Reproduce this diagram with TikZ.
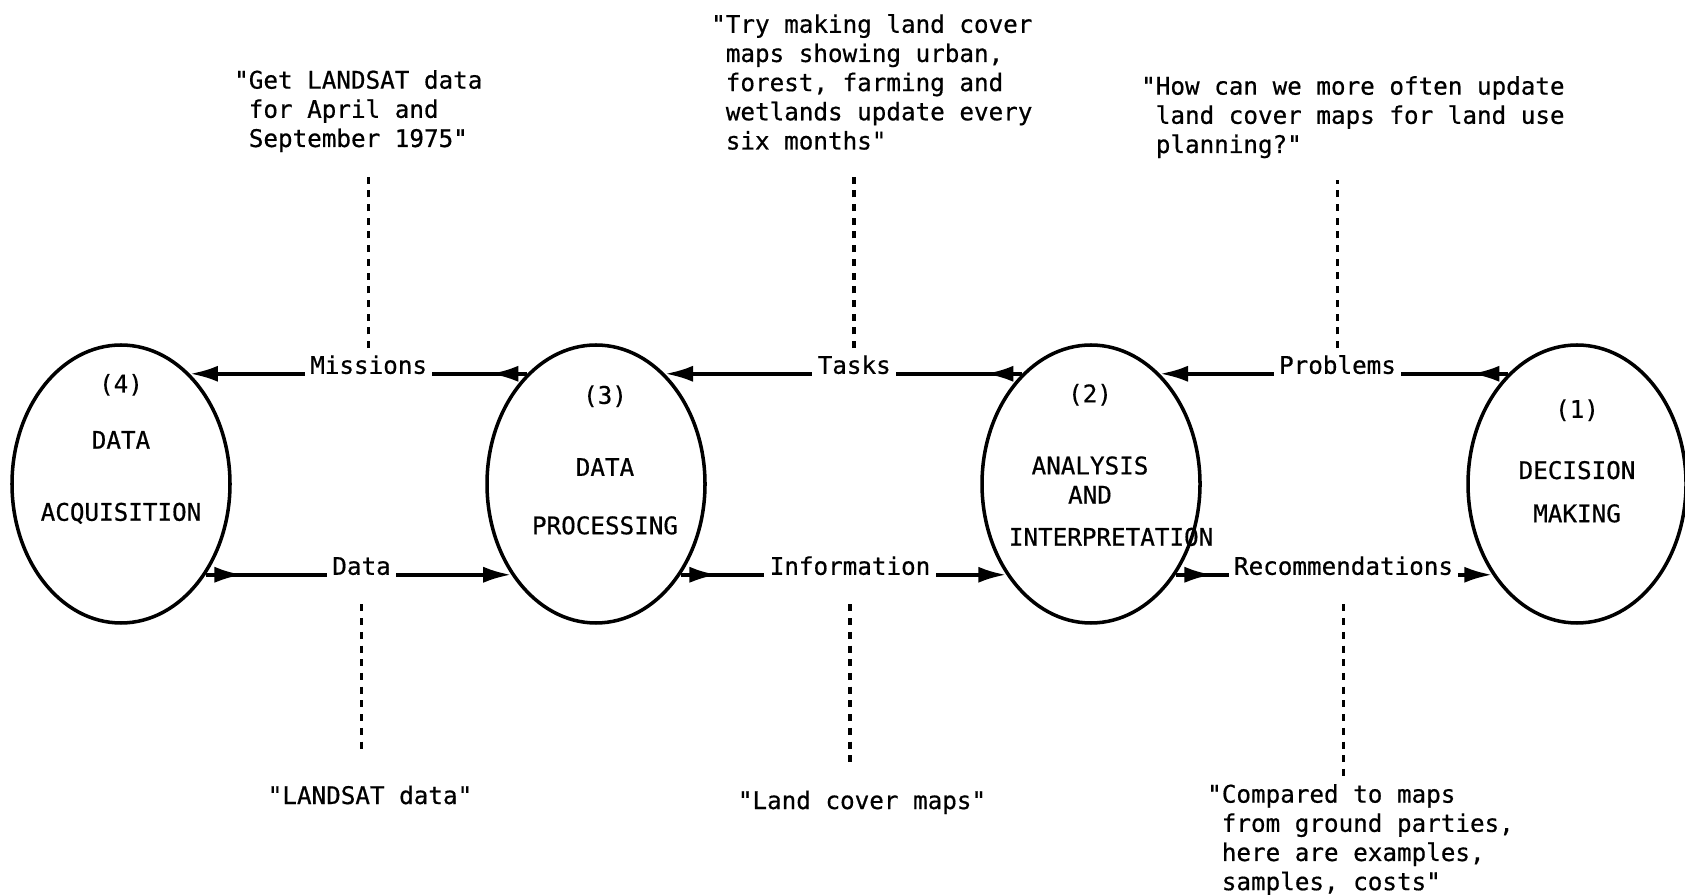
\documentclass[tikz,border=0pt]{standalone}
\usepackage{fontspec}
\setmonofont{DejaVu Sans Mono}[FakeBold=0.6]
\usetikzlibrary{shapes.geometric,arrows.meta,decorations.markings}

\tikzset{proc/.style={draw,ellipse,line width=1pt,minimum width=21.8mm,minimum height=27.8mm,inner sep=0pt}}
\tikzset{proctxt/.style={align=center,inner sep=0pt}}
\tikzset{flow/.style={line width=1.1pt,-{Latex[length=8pt,width=4.6pt]},postaction={decorate},
    decoration={markings,mark=at position 10.5pt with {\arrow{Latex[length=8pt,width=4.6pt]}}}}}
\tikzset{flowlbl/.style={fill=white,anchor=base,inner sep=1.5pt}}
\tikzset{saying/.style={align=left,anchor=north west,inner sep=1pt}}
\tikzset{hint/.style={line width=1.05pt,dash pattern=on 2pt off 1.9pt}}

\begin{document}
\begin{tikzpicture}[x=0.1mm,y=-0.1mm,font=\ttfamily\fontsize{6.9pt}{8.3pt}\selectfont]
        \useasboundingbox (0,0) rectangle (1685,895);
        % the four stages
        \node[proc] (n4) at (121,484) {};
        \node[proc] (n3) at (596,484) {};
        \node[proc] (n2) at (1091,484) {};
        \node[proc] (n1) at (1577,484) {};
        \node[proctxt] (t4) at (121,449) {(4)\\[7.7pt]DATA\\[12.2pt]ACQUISITION};
        \node[proctxt] (t3) at (605,460) {(3)\\[12.2pt]DATA\\[8.3pt]PROCESSING};
        \node[proctxt] (t2) at (1090,465) {(2)\\[12.2pt]ANALYSIS\\AND\\[3.7pt]\hspace*{12pt}INTERPRETATION};
        \node[proctxt] (t1) at (1577,461) {(1)\\[9.1pt]DECISION\\[4pt]MAKING};

        % flows back (top) and forward (bottom)
        \draw[flow] (n3.122) -- node[flowlbl,pos=.47] (mis) {Missions} (n4.58);
        \draw[flow] (n2.122) -- node[flowlbl,pos=.47] (tsk) {Tasks} (n3.58);
        \draw[flow] (n1.122) -- node[flowlbl,pos=.49] (prb) {Problems} (n2.58);
        \draw[flow] (n4.313) -- node[flowlbl,pos=.51] (dat) {Data} (n3.227);
        \draw[flow] (n3.313) -- node[flowlbl,pos=.52] (inf) {Information} (n2.227);
        \draw[flow] (n2.313) -- node[flowlbl,pos=.53] (rec) {Recommendations} (n1.227);

        % what is said along each flow
        \node[saying] (q4) at (230,66) {"Get LANDSAT data\\\phantom{"}for April and\\\phantom{"}September 1975"};
        \node[saying] (q3) at (707,10) {"Try making land cover\\\phantom{"}maps showing urban,\\\phantom{"}forest, farming and\\\phantom{"}wetlands update every\\\phantom{"}six months"};
        \node[saying] (q2) at (1137,72) {"How can we more often update\\\phantom{"}land cover maps for land use\\\phantom{"}planning?"};
        \node[anchor=base] (qd) at (370,804) {"LANDSAT data"};
        \node[anchor=base] (qi) at (862,809) {"Land cover maps"};
        \node[saying] (qr) at (1203,780) {"Compared to maps\\\phantom{"}from ground parties,\\\phantom{"}here are examples,\\\phantom{"}samples, costs"};

        \draw[hint,shorten >=5pt] (mis.north) -- (mis.north |- q4.south);
        \draw[hint,shorten >=5pt] (tsk.north) -- (tsk.north |- q3.south);
        \draw[hint,shorten >=5pt] (prb.north) -- (prb.north |- q2.south);
        \draw[hint,shorten <=6.3pt,shorten >=6.5pt] (dat.south) -- (dat.south |- qd.north);
        \draw[hint,shorten <=6.3pt,shorten >=3.5pt] (inf.south) -- (inf.south |- qi.north);
        \draw[hint,shorten <=6.3pt,shorten >=0.5pt] (rec.south) -- (rec.south |- qr.north);
\end{tikzpicture}
\end{document}
